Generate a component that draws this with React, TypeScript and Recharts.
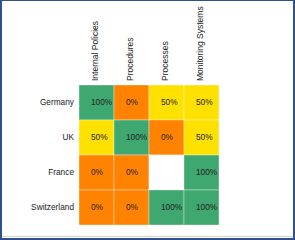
import React from 'react';
import { BarChart, Bar, XAxis, YAxis, Cell, LabelList } from 'recharts';

const countries = ['Germany', 'UK', 'France', 'Switzerland'];
const areas = ['Internal Policies', 'Procedures', 'Processes', 'Monitoring Systems'];

// score per area, one entry per country (null = no data)
const internalPolicies = [100, 50, 0, 0];
const procedures = [0, 100, 0, 0];
const processes = [50, 0, null, 100];
const monitoringSystems = [50, 50, 100, 100];

const scores = [internalPolicies, procedures, processes, monitoringSystems];

const data = countries.map((country, i) => {
  const row: Record<string, string | number | null> = { country };
  areas.forEach((a, j) => {
    row[a] = scores[j][i];
  });
  return row;
});

const colorFor = (v: number | null) => {
  if (v === null || v === undefined) return '#ffffff';
  if (v >= 100) return '#3fa870';
  if (v >= 50) return '#ffe100';
  return '#ff8200';
};

const AreaTick = (props: any) => {
  const { x, y, payload } = props;
  const label = areas[Math.floor(payload.value)];
  const tx = x + 1;
  const ty = y;
  return (
    <text
      x={tx}
      y={ty}
      transform={`rotate(-90, ${tx}, ${ty})`}
      textAnchor="start"
      fontSize={8.5}
      fill="#222"
      fontFamily="Liberation Sans, Arial, sans-serif"
    >
      {label}
    </text>
  );
};

const App: React.FC = () => {
  return (
    <div style={{ position: 'absolute', left: 0, top: 0, width: 295, height: 240, background: '#fff' }}>
      <BarChart
        width={295}
        height={240}
        data={data}
        layout="vertical"
        barCategoryGap={0}
        margin={{ top: 5, right: 76, bottom: 15, left: 0 }}
        style={{ fontFamily: 'Liberation Sans, Arial, sans-serif' }}
      >
        <XAxis
          type="number"
          orientation="top"
          domain={[0, 4]}
          ticks={[0.5, 1.5, 2.5, 3.5]}
          height={80}
          axisLine={false}
          tickLine={false}
          tickSize={0}
          tickMargin={4}
          tick={AreaTick}
          interval={0}
        />
        <YAxis
          type="category"
          dataKey="country"
          width={79}
          axisLine={false}
          tickLine={false}
          tickSize={0}
          tickMargin={5}
          tick={{ fontSize: 8.3, fill: '#222' }}
        />
        {areas.map((a) => (
          <Bar key={a} dataKey={() => 1} stackId="grid" isAnimationActive={false}>
            {data.map((row, i) => (
              <Cell
                key={i}
                fill={colorFor(row[a] as number | null)}
                stroke="rgba(255,255,255,0.35)"
                strokeWidth={1}
              />
            ))}
            <LabelList
              dataKey={a}
              position="insideLeft"
              offset={12}
              formatter={(v: any) => (v === null || v === undefined ? '' : `${v}%`)}
              style={{ fontSize: 8.3, fill: '#222' }}
            />
          </Bar>
        ))}
      </BarChart>
      <div
        style={{
          position: 'absolute',
          left: 2,
          right: 2,
          top: 236,
          height: 1,
          background: '#d4d4d4',
        }}
      />
      <div
        style={{
          position: 'absolute',
          inset: 0,
          boxSizing: 'border-box',
          borderStyle: 'solid',
          borderColor: '#2f528f',
          borderWidth: '1px 2px 2px 2px',
          pointerEvents: 'none',
        }}
      />
    </div>
  );
};

export default App;
